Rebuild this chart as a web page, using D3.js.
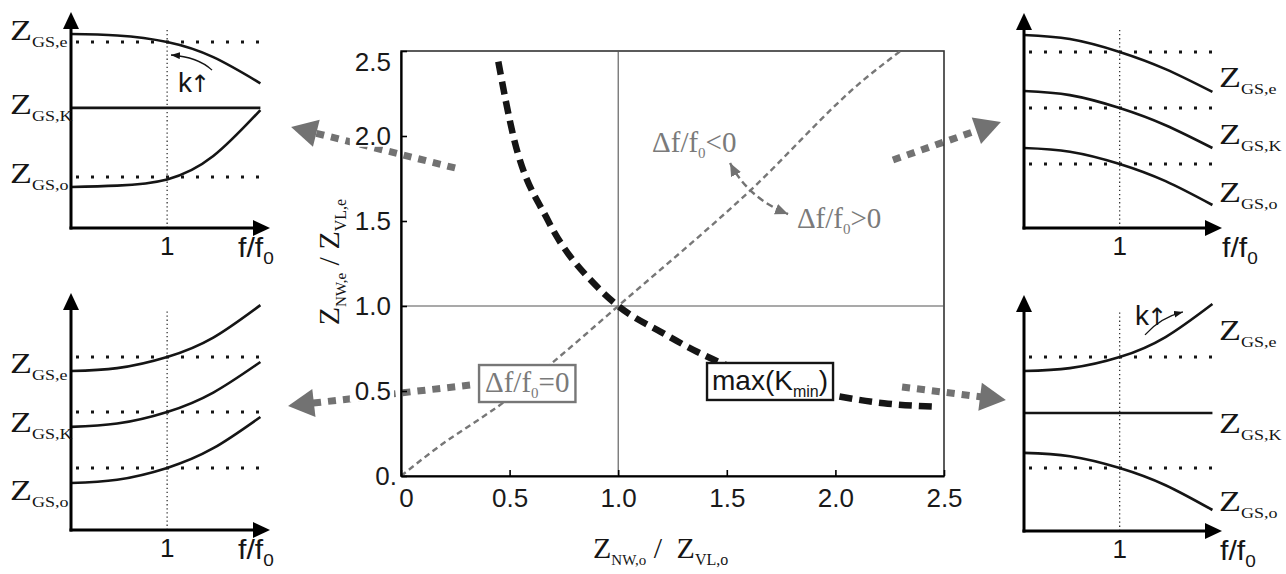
<!DOCTYPE html>
<html>
<head>
<meta charset="utf-8">
<script src="https://cdn.jsdelivr.net/npm/d3@7"></script>
<style>
  html, body { margin: 0; padding: 0; background: #fff; }
  svg { display: block; }
</style>
</head>
<body>
<svg id="fig" width="1286" height="574"></svg>
<script>
// ---------- central diagram: impedance ratios ----------
const xTickValues = [0, 0.5, 1.0, 1.5, 2.0, 2.5];
const xTickLabels = ["0", "0.5", "1.0", "1.5", "2.0", "2.5"];
const yTickValues = [0, 0.5, 1.0, 1.5, 2.0, 2.5];
const yTickLabels = ["0.", "0.5", "1.0", "1.5", "2.0", "2.5"];

// locus of max(K_min)
const kminX = [0.448, 0.517, 0.678, 0.902, 1.0, 1.2, 1.363, 1.462, 2.038, 2.223, 2.446];
const kminY = [2.437, 2.0, 1.5, 1.114, 1.0, 0.845, 0.731, 0.672, 0.463, 0.428, 0.408];

// locus of zero frequency shift (Δf/f0 = 0)
const zeroX = [0, 0.15, 0.5, 0.7, 1.0, 1.6, 2.13, 2.3];
const zeroY = [0, 0.15, 0.46, 0.67, 1.0, 1.67, 2.33, 2.5];

// ---------- corner sketches: Z_GS versus f/f0 ----------
const panelF = [0, 0.48, 1.0, 1.48, 1.97];

const tlCurveE = [0.898, 0.891, 0.861, 0.791, 0.670];
const tlCurveO = [0.190, 0.196, 0.225, 0.333, 0.546];
const tlLevelK = 0.556;
const tlLevels = [0.861, 0.236];

const blCurveE = [0.671, 0.683, 0.730, 0.812, 0.949];
const blCurveK = [0.435, 0.449, 0.498, 0.580, 0.709];
const blCurveO = [0.198, 0.212, 0.262, 0.345, 0.477];
const blLevels = [0.730, 0.498, 0.262];

const trCurveE = [0.898, 0.879, 0.819, 0.739, 0.633];
const trCurveK = [0.637, 0.618, 0.558, 0.478, 0.372];
const trCurveO = [0.372, 0.355, 0.298, 0.218, 0.107];
const trLevels = [0.819, 0.558, 0.298];

const brCurveE = [0.678, 0.690, 0.737, 0.822, 0.962];
const brLevelK = 0.5;
const brCurveO = [0.331, 0.317, 0.267, 0.194, 0.089];
const brLevels = [0.737, 0.267];

// ---------- drawing ----------
const svg = d3.select("#fig");
const SANS = "'Liberation Sans', Arial, sans-serif";
const SERIF = "'Liberation Serif', 'Times New Roman', serif";
const GRAY = "#727272";
const INK = "#151515";

const defs = svg.append("defs");
function addMarker(id, color, w, h) {
  defs.append("marker").attr("id", id)
    .attr("viewBox", `0 0 ${w} ${h}`).attr("refX", w).attr("refY", h / 2)
    .attr("markerWidth", w).attr("markerHeight", h)
    .attr("markerUnits", "userSpaceOnUse").attr("orient", "auto-start-reverse")
    .append("path").attr("d", `M0,0L${w},${h / 2}L0,${h}Z`).attr("fill", color);
}
addMarker("headInk", INK, 9, 7);
addMarker("headGray", GRAY, 13, 11);

const mx = d3.scaleLinear().domain([0, 2.5]).range([401, 944]);
const my = d3.scaleLinear().domain([0, 2.5]).range([476, 51]);

// thick dotted arrows linking the central diagram to the sketches
const linkArrows = [
  { from: [0.249, 1.812], to: [-0.506, 2.053] },
  { from: [0.318, 0.535], to: [-0.520, 0.412] },
  { from: [2.265, 1.859], to: [2.762, 2.082] },
  { from: [2.307, 0.524], to: [2.785, 0.447] }
];
const linkLayer = svg.append("g");
linkArrows.forEach(a => {
  const x0 = mx(a.from[0]), y0 = my(a.from[1]);
  const x1 = mx(a.to[0]), y1 = my(a.to[1]);
  const len = Math.hypot(x1 - x0, y1 - y0);
  const ux = (x1 - x0) / len, uy = (y1 - y0) / len;
  const headL = 26, headW = 14;
  const bx = x1 - ux * headL, by = y1 - uy * headL;
  linkLayer.append("line")
    .attr("x1", x0).attr("y1", y0).attr("x2", bx + ux * 2).attr("y2", by + uy * 2)
    .attr("stroke", GRAY).attr("stroke-width", 7).attr("stroke-dasharray", "8,7");
  linkLayer.append("path")
    .attr("d", `M${x1},${y1}L${bx - uy * headW},${by + ux * headW}L${bx + uy * headW},${by - ux * headW}Z`)
    .attr("fill", GRAY);
});

// plot frame and reference cross at (1,1)
const plot = svg.append("g");
plot.append("rect")
  .attr("x", mx(0)).attr("y", my(2.5))
  .attr("width", mx(2.5) - mx(0)).attr("height", my(0) - my(2.5))
  .attr("fill", "none").attr("stroke", "#333").attr("stroke-width", 1.6);
plot.append("line").attr("x1", mx(1)).attr("x2", mx(1)).attr("y1", my(0)).attr("y2", my(2.5))
  .attr("stroke", "#555").attr("stroke-width", 1.1);
plot.append("line").attr("x1", mx(0)).attr("x2", mx(2.5)).attr("y1", my(1)).attr("y2", my(1))
  .attr("stroke", "#555").attr("stroke-width", 1.1);

// curves
const zeroLine = d3.line().x((d, i) => mx(zeroX[i])).y(d => my(d)).curve(d3.curveMonotoneX);
plot.append("path").datum(zeroY).attr("d", zeroLine)
  .attr("fill", "none").attr("stroke", "#777").attr("stroke-width", 2.4).attr("stroke-dasharray", "6,4");

const kminLine = d3.line().x((d, i) => mx(kminX[i])).y(d => my(d)).curve(d3.curveMonotoneX);
plot.append("path").datum(kminY).attr("d", kminLine)
  .attr("fill", "none").attr("stroke", INK).attr("stroke-width", 6.5).attr("stroke-dasharray", "13,7");

// axes
const yAxis = d3.axisLeft(my).tickValues(yTickValues).tickFormat((d, i) => yTickLabels[i])
  .tickSizeInner(-6).tickSizeOuter(0).tickPadding(10);
const xAxis = d3.axisBottom(mx).tickValues(xTickValues).tickFormat((d, i) => xTickLabels[i])
  .tickSizeInner(-6).tickSizeOuter(0).tickPadding(13);

const gy = svg.append("g").attr("transform", `translate(${mx(0)},0)`).call(yAxis);
const gx = svg.append("g").attr("transform", `translate(0,${my(0)})`).call(xAxis);
[gx, gy].forEach(g => {
  g.select(".domain").attr("stroke", "#000").attr("stroke-width", 2.2);
  g.selectAll(".tick line").attr("stroke", "#000").attr("stroke-width", 1.6);
  g.selectAll(".tick text").attr("font-family", SANS).attr("font-size", 26).attr("fill", "#1a1a1a");
});
// tick labels sit on a white ground over the connector arrows
gy.selectAll(".tick").each(function () {
  const t = d3.select(this).select("text");
  const b = t.node().getBBox();
  d3.select(this).insert("rect", "text")
    .attr("x", b.x - 5).attr("y", b.y + 4).attr("width", b.width + 8).attr("height", b.height - 8)
    .attr("fill", "#fff");
});
gy.selectAll(".tick").filter(d => d === 2.5).selectAll("text,rect").attr("transform", "translate(0,11)");
gy.selectAll(".tick").filter(d => d === 0).select("text").attr("dx", 6);
gx.selectAll(".tick").filter(d => d === 0).select("text").attr("dx", 5);

// axis titles
function ratioTitle(sel, subA, subB, gap) {
  sel.attr("font-family", SERIF).attr("font-size", 30).attr("fill", INK);
  sel.append("tspan").text("Z");
  sel.append("tspan").attr("font-size", 15).attr("dy", 7).text(subA);
  sel.append("tspan").attr("dy", -7).text(" / ");
  sel.append("tspan").attr("dx", gap).text("Z");
  sel.append("tspan").attr("font-size", 16).attr("dy", 7).text(subB);
}
ratioTitle(svg.append("text").attr("x", 593).attr("y", 558), "NW,o", "VL,o", 7);
ratioTitle(svg.append("text").attr("text-anchor", "middle")
  .attr("transform", "translate(339,262) rotate(-90)"), "NW,e", "VL,e", 0);

// annotations inside the diagram
function deltaLabel(x, y, tail, color) {
  const t = svg.append("text").attr("x", mx(x)).attr("y", my(y))
    .attr("font-family", SERIF).attr("font-size", 29).attr("fill", color);
  t.append("tspan").text("Δf/f");
  t.append("tspan").attr("font-size", 15).attr("dy", 6).text("0");
  t.append("tspan").attr("dy", -6).text(tail);
  return t;
}
deltaLabel(1.156, 1.906, "<0", "#7a7a7a");
deltaLabel(1.823, 1.459, ">0", "#7a7a7a");

const swing = [[1.515, 1.841], [1.598, 1.635], [1.782, 1.541]];
svg.append("path")
  .attr("d", `M${mx(swing[0][0])},${my(swing[0][1])}Q${mx(swing[1][0])},${my(swing[1][1])} ${mx(swing[2][0])},${my(swing[2][1])}`)
  .attr("fill", "none").attr("stroke", GRAY).attr("stroke-width", 2.4).attr("stroke-dasharray", "7,4")
  .attr("marker-start", "url(#headGray)").attr("marker-end", "url(#headGray)");

function boxed(textSel, stroke, padX) {
  const b = textSel.node().getBBox();
  const y0 = +textSel.attr("y");
  svg.insert("rect", () => textSel.node())
    .attr("x", b.x - padX).attr("y", y0 - 27).attr("width", b.width + 2 * padX).attr("height", 37)
    .attr("fill", "#fff").attr("stroke", stroke).attr("stroke-width", 2.4);
}
const zeroTxt = deltaLabel(0.387, 0.494, "=0", "#7a7a7a");
boxed(zeroTxt, "#777", 6);

const kTxt = svg.append("text").attr("x", mx(1.432)).attr("y", my(0.506))
  .attr("font-family", SANS).attr("font-size", 28).attr("fill", INK);
kTxt.append("tspan").text("max(K");
kTxt.append("tspan").attr("font-size", 16).attr("dy", 7).text("min");
kTxt.append("tspan").attr("dy", -7).text(")");
boxed(kTxt, INK, 5);

// ---------- corner sketches ----------
const F_AXIS = 2.07, F_END = 1.97;
const panels = [
  { x0: 71, x1: 270, y0: 228, y1: 12, curves: [tlCurveE, tlCurveO], flat: [tlLevelK], levels: tlLevels,
    labels: [["e", 0.870], ["K", 0.528], ["o", 0.208]], labelX: 10, ffX: 238,
    kText: [1.113, 0.630], kArrow: [[1.467, 0.731], [1.32, 0.792], [1.04, 0.801]] },
  { x0: 71, x1: 270, y0: 530, y1: 293, curves: [blCurveE, blCurveK, blCurveO], flat: [], levels: blLevels,
    labels: [["e", 0.662], ["K", 0.414], ["o", 0.127]], labelX: 10, ffX: 238 },
  { x0: 1024, x1: 1222, y0: 228, y1: 13, curves: [trCurveE, trCurveK, trCurveO], flat: [], levels: trLevels,
    labels: [["e", 0.656], ["K", 0.391], ["o", 0.121]], labelX: 1219, ffX: 1222 },
  { x0: 1024, x1: 1222, y0: 531, y1: 295, curves: [brCurveE, brCurveO], flat: [brLevelK], levels: brLevels,
    labels: [["e", 0.809], ["K", 0.415], ["o", 0.085]], labelX: 1219, ffX: 1220,
    kText: [1.16, 0.873], kArrow: [[1.265, 0.831], [1.422, 0.903], [1.662, 0.928]] }
];

panels.forEach(p => {
  const g = svg.append("g");
  const fx = d3.scaleLinear().domain([0, F_AXIS]).range([p.x0, p.x1]);
  const zy = d3.scaleLinear().domain([0, 1]).range([p.y0, p.y1]);

  // reference levels at f = f0
  p.levels.forEach(v => g.append("line")
    .attr("x1", fx(0) + 5).attr("x2", fx(F_END)).attr("y1", zy(v)).attr("y2", zy(v))
    .attr("stroke", INK).attr("stroke-width", 3).attr("stroke-dasharray", "3,12"));
  // f = f0 marker
  g.append("line").attr("x1", fx(1)).attr("x2", fx(1)).attr("y1", zy(0)).attr("y2", zy(0.93))
    .attr("stroke", "#333").attr("stroke-width", 1.3).attr("stroke-dasharray", "1.3,2.8");

  const curve = d3.line().x((d, i) => fx(panelF[i])).y(d => zy(d)).curve(d3.curveNatural);
  p.curves.forEach(c => g.append("path").datum(c).attr("d", curve)
    .attr("fill", "none").attr("stroke", INK).attr("stroke-width", 2.6));
  p.flat.forEach(v => g.append("line")
    .attr("x1", fx(0)).attr("x2", fx(F_END)).attr("y1", zy(v)).attr("y2", zy(v))
    .attr("stroke", INK).attr("stroke-width", 2.6));

  // axes with arrow heads
  g.append("line").attr("x1", p.x0).attr("x2", p.x0).attr("y1", p.y0 + 1.5).attr("y2", p.y1 + 12)
    .attr("stroke", "#000").attr("stroke-width", 3);
  g.append("line").attr("x1", p.x0 - 1.5).attr("x2", p.x1 - 12).attr("y1", p.y0).attr("y2", p.y0)
    .attr("stroke", "#000").attr("stroke-width", 3);
  g.append("path").attr("d", `M${p.x0},${p.y1}L${p.x0 + 8},${p.y1 + 17}L${p.x0 - 8},${p.y1 + 17}Z`).attr("fill", "#000");
  g.append("path").attr("d", `M${p.x1},${p.y0}L${p.x1 - 17},${p.y0 - 8}L${p.x1 - 17},${p.y0 + 8}Z`).attr("fill", "#000");

  // axis text
  g.append("text").attr("x", fx(1)).attr("y", p.y0 + 27).attr("text-anchor", "middle")
    .attr("font-family", SANS).attr("font-size", 26).attr("fill", INK).text("1");
  const ff = g.append("text").attr("transform", `translate(${p.ffX},${p.y0 + 29}) scale(1.12,1)`)
    .attr("font-family", SANS).attr("font-size", 27).attr("fill", INK);
  ff.append("tspan").text("f/f");
  ff.append("tspan").attr("font-size", 17).attr("dy", 7).text("0");

  p.labels.forEach(([s, v]) => {
    const t = g.append("text").attr("transform", `translate(${p.labelX},${zy(v)}) scale(1.2,1)`)
      .attr("font-family", SERIF).attr("font-size", 30).attr("fill", INK);
    t.append("tspan").text("Z");
    t.append("tspan").attr("font-size", 15).attr("dy", 7).text("GS," + s);
  });

  if (p.kText) {
    const k = g.append("text").attr("x", fx(p.kText[0])).attr("y", zy(p.kText[1]))
      .attr("font-family", SANS).attr("font-size", 28).attr("fill", INK);
    k.append("tspan").text("k");
    k.append("tspan").attr("font-family", "'DejaVu Sans', sans-serif").attr("font-size", 24)
      .attr("dx", -2).text("↑");
    const a = p.kArrow;
    g.append("path")
      .attr("d", `M${fx(a[0][0])},${zy(a[0][1])}Q${fx(a[1][0])},${zy(a[1][1])} ${fx(a[2][0])},${zy(a[2][1])}`)
      .attr("fill", "none").attr("stroke", INK).attr("stroke-width", 1.3)
      .attr("marker-end", "url(#headInk)");
  }
});
</script>
</body>
</html>
